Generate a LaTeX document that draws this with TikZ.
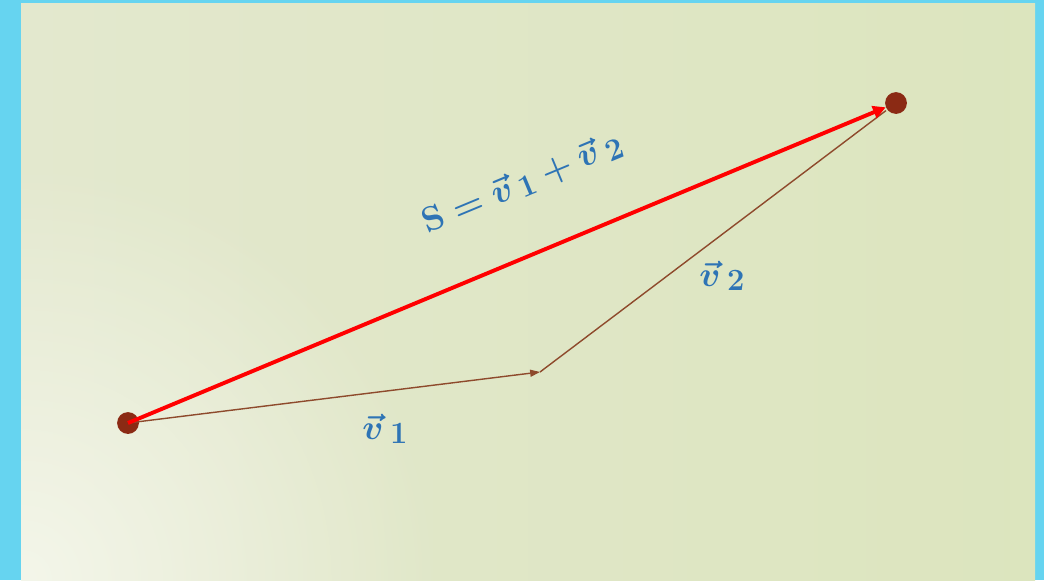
\documentclass[tikz,border=0pt]{standalone}
\usepackage{amsmath,bm}
\usetikzlibrary{arrows.meta,fadings}
\definecolor{frame}{HTML}{66D4F0}
\definecolor{paperlight}{HTML}{F4F6EA}
\definecolor{paperleft}{HTML}{E3E8CE}
\definecolor{papergreen}{HTML}{DCE5BE}
\definecolor{labelblue}{HTML}{2E74B5}
\definecolor{dotred}{HTML}{8B2A14}
\definecolor{brownline}{HTML}{8E4A2C}
\tikzfading[name=glow,inner color=transparent!0,outer color=transparent!100]
\newcommand{\vsub}[1]{\vec{v}\mkern3mu\lower3pt\hbox{\fontsize{22}{22}\selectfont\bfseries #1}}
\begin{document}
\begin{tikzpicture}[x=0.025cm,y=-0.025cm,
  dot/.style={circle,fill=dotred,inner sep=0pt,minimum size=15.5pt},
  lbl/.style={text=labelblue,font=\fontsize{27}{30}\selectfont\bfseries\boldmath}]
  \fill[frame] (0,0) rectangle (1044,580);
  \shade[left color=paperleft,right color=papergreen] (21,3) rectangle (1035,580);
  \begin{scope}
    \clip (21,3) rectangle (1035,580);
    \fill[paperlight,path fading=glow] (21,580) circle (420);
  \end{scope}
  \node[dot] (A) at (128,423) {};
  \node[dot] (B) at (896,103) {};
  \coordinate (M) at (540,372);
  \draw[brownline,line width=1pt,-{Triangle[length=7pt,width=5pt]}] (A.center) -- (M);
  \draw[brownline,line width=1pt,shorten >=1pt] (M) -- (B);
  \draw[red,line width=2.8pt,-{Triangle[length=9pt,width=9pt]}] (A.center) -- (B);
  \node[lbl,font=\fontsize{30}{33}\selectfont\bfseries\boldmath,rotate=22.6] (sum) at (522,183)
    {$\mathbf{S}=\vsub{1}+\vsub{2}$};
  \node[lbl] (v1) at (385,429) {$\vsub{1}$};
  \node[lbl] (v2) at (722,276) {$\vsub{2}$};
\end{tikzpicture}
\end{document}
